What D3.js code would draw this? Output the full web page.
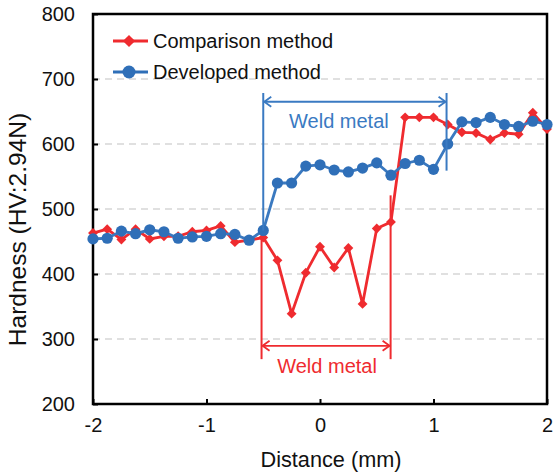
<!DOCTYPE html>
<html>
<head>
<meta charset="utf-8">
<script src="https://cdn.jsdelivr.net/npm/d3@7"></script>
<style>
  html, body { margin: 0; padding: 0; background: #fff; }
  text { font-family: "Liberation Sans", Arial, sans-serif; }
</style>
</head>
<body>
<svg id="chart"></svg>
<script>
// Distance (mm) of each measuring point
const distances = [-2, -1.875, -1.75, -1.625, -1.5, -1.375, -1.25, -1.125, -1, -0.875, -0.75, -0.625,
    -0.5, -0.375, -0.25, -0.125, 0, 0.125, 0.25, 0.375, 0.5, 0.625, 0.75, 0.875, 1, 1.125,
    1.25, 1.375, 1.5, 1.625, 1.75, 1.875, 2];

// Hardness values
const comparison = [463, 469, 453, 469, 454, 458, 458, 465, 467, 474, 449, 452,
    456, 421, 339, 402, 442, 410, 440, 354, 470, 480, 641, 641, 641, 630,
    618, 617, 607, 617, 615, 648, 623];
const developed = [454, 455, 466, 462, 468, 465, 455, 457, 458, 462, 461, 452,
    467, 540, 540, 566, 568, 560, 557, 563, 571, 552, 570, 575, 561, 600,
    634, 633, 641, 630, 627, 635, 630];

const seriesNames = ["Comparison method", "Developed method"];
const xTicks = [-2, -1, 0, 1, 2];
const yTicks = [200, 300, 400, 500, 600, 700, 800];
const gridTicks = [300, 400, 500, 600, 700];

// weld metal zones for the two methods (mm)
const weldDeveloped = [-0.5, 1.115];
const weldComparison = [-0.515, 0.622];

const RED = "#ef2b2f";
const BLUE = "#2f6fb8";

const W = 554, H = 473;
const margin = { top: 14, right: 7, bottom: 69, left: 93 };
const width = W - margin.left - margin.right;
const height = H - margin.top - margin.bottom;

const svgRoot = d3.select("#chart").attr("width", W).attr("height", H);
const svg = svgRoot.append("g").attr("transform", `translate(${margin.left},${margin.top})`);

const x = d3.scaleLinear().domain([-2, 2]).range([0, width]);
const y = d3.scaleLinear().domain([200, 800]).range([height, 0]);

// dashed gridlines
svg.append("g")
    .selectAll("line")
    .data(gridTicks)
    .join("line")
    .attr("x1", 0).attr("x2", width)
    .attr("y1", d => y(d)).attr("y2", d => y(d))
    .attr("stroke", "#d6d6d6")
    .attr("stroke-width", 1.5)
    .attr("stroke-dasharray", "7,5");

// axes with inward ticks
const yAxis = svg.append("g").call(d3.axisLeft(y).tickValues(yTicks).tickSize(-5).tickPadding(18));
yAxis.select(".domain").remove();
yAxis.selectAll("text").attr("font-size", 20).attr("fill", "#111")
    .attr("font-family", "Liberation Sans, Arial, sans-serif");
yAxis.selectAll("line").attr("stroke", "#000").attr("stroke-width", 2);

const xAxis = svg.append("g")
    .attr("transform", `translate(0,${height})`)
    .call(d3.axisBottom(x).tickValues(xTicks).tickSize(-5).tickPadding(14).tickFormat(d => String(d)));
xAxis.select(".domain").remove();
xAxis.selectAll("text").attr("font-size", 20).attr("fill", "#111")
    .attr("font-family", "Liberation Sans, Arial, sans-serif");
xAxis.selectAll("line").attr("stroke", "#000").attr("stroke-width", 2);

// frame
svg.append("rect")
    .attr("width", width).attr("height", height)
    .attr("fill", "none").attr("stroke", "#000").attr("stroke-width", 2.5);

// weld metal annotations
function arrowHead(g, px, py, dir, color) {
    g.append("path")
        .attr("d", `M${px - dir * 7},${py - 5} L${px},${py} L${px - dir * 7},${py + 5}`)
        .attr("fill", "none").attr("stroke", color).attr("stroke-width", 1.8);
}

function weldBracket(zone, leftY, rightY, arrowY, labelY, labelShift, color) {
    const g = svg.append("g");
    g.append("line")
        .attr("x1", x(zone[0])).attr("x2", x(zone[0]))
        .attr("y1", y(leftY[0])).attr("y2", y(leftY[1]))
        .attr("stroke", color).attr("stroke-width", 2);
    g.append("line")
        .attr("x1", x(zone[1])).attr("x2", x(zone[1]))
        .attr("y1", y(rightY[0])).attr("y2", y(rightY[1]))
        .attr("stroke", color).attr("stroke-width", 2);
    g.append("line")
        .attr("x1", x(zone[0]) + 1).attr("x2", x(zone[1]) - 1)
        .attr("y1", y(arrowY)).attr("y2", y(arrowY))
        .attr("stroke", color).attr("stroke-width", 1.8);
    arrowHead(g, x(zone[0]) + 1, y(arrowY), -1, color);
    arrowHead(g, x(zone[1]) - 1, y(arrowY), 1, color);
    g.append("text")
        .attr("x", (x(zone[0]) + x(zone[1])) / 2 + labelShift)
        .attr("y", y(labelY))
        .attr("text-anchor", "middle")
        .attr("font-size", 20)
        .attr("fill", color)
        .text("Weld metal");
}

// line generator
const line = d3.line()
    .x((d, i) => x(distances[i]))
    .y(d => y(d));

// comparison method (red diamonds)
svg.append("path")
    .datum(comparison)
    .attr("fill", "none")
    .attr("stroke", RED)
    .attr("stroke-width", 2.8)
    .attr("d", line);

const diamond = d3.symbol().type(d3.symbolDiamond2).size(62);
svg.append("g")
    .selectAll("path")
    .data(comparison)
    .join("path")
    .attr("transform", (d, i) => `translate(${x(distances[i])},${y(d)})`)
    .attr("d", diamond)
    .attr("fill", RED);

weldBracket(weldComparison, [456, 269], [521, 269], 289.5, 247.5, 1, RED);

// developed method (blue circles)
svg.append("path")
    .datum(developed)
    .attr("fill", "none")
    .attr("stroke", "#3a79c0")
    .attr("stroke-width", 2.8)
    .attr("d", line);

svg.append("g")
    .selectAll("circle")
    .data(developed)
    .join("circle")
    .attr("cx", (d, i) => x(distances[i]))
    .attr("cy", d => y(d))
    .attr("r", 5.6)
    .attr("fill", BLUE);

weldBracket(weldDeveloped, [678.5, 467], [678.5, 559], 665, 624.5, -16, "#3a7ac2");

// legend
const legend = svg.append("g").attr("transform", "translate(20,27)");
const legendRows = [
    { name: seriesNames[0], color: RED, shape: "diamond" },
    { name: seriesNames[1], color: BLUE, shape: "circle" }
];
legendRows.forEach((row, i) => {
    const gy = i * 31;
    legend.append("line")
        .attr("x1", 0).attr("x2", 35)
        .attr("y1", gy).attr("y2", gy)
        .attr("stroke", row.color).attr("stroke-width", 2.8);
    if (row.shape === "diamond") {
        legend.append("path")
            .attr("transform", `translate(16,${gy})`)
            .attr("d", d3.symbol().type(d3.symbolDiamond2).size(95))
            .attr("fill", row.color);
    } else {
        legend.append("circle")
            .attr("cx", 16).attr("cy", gy).attr("r", 6.5)
            .attr("fill", row.color);
    }
    legend.append("text")
        .attr("x", 40).attr("y", gy + 7)
        .attr("font-size", 20)
        .attr("fill", "#111")
        .text(row.name);
});

// axis titles
svgRoot.append("text")
    .attr("x", 331).attr("y", 466.5)
    .attr("text-anchor", "middle")
    .attr("font-size", 21.7)
    .attr("fill", "#111")
    .text("Distance (mm)");

svgRoot.append("text")
    .attr("transform", "translate(26,229.5) rotate(-90)")
    .attr("text-anchor", "middle")
    .attr("font-size", 24.5)
    .attr("fill", "#111")
    .text("Hardness (HV:2.94N)");
</script>
</body>
</html>
